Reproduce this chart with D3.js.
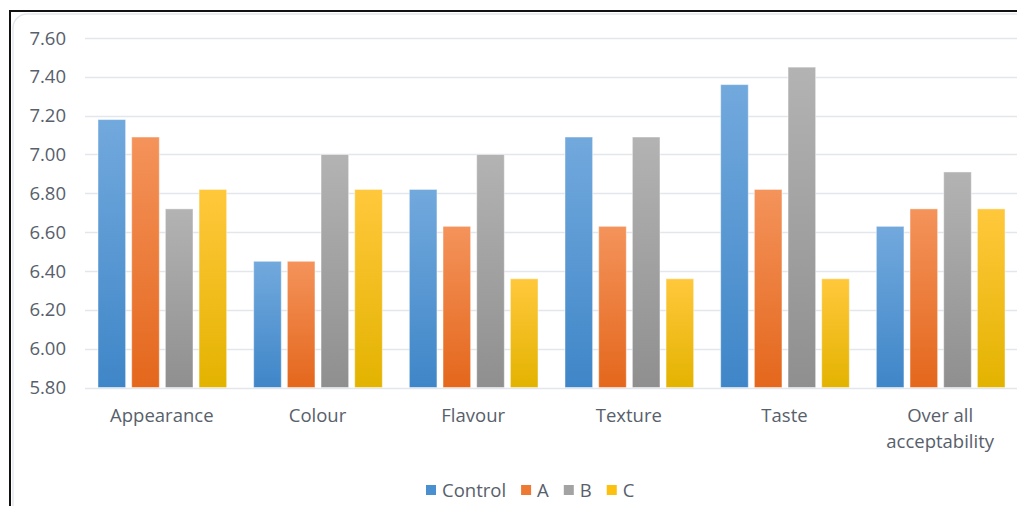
<!DOCTYPE html>
<html><head><meta charset="utf-8">
<script src="https://cdn.jsdelivr.net/npm/d3@7"></script>
<style>body{margin:0;background:#fff;}svg{display:block;}</style>
</head><body>
<svg id="c" width="1017" height="506"></svg>
<script>
const categories = ["Appearance","Colour","Flavour","Texture","Taste","Over all acceptability"];
const seriesNames = ["Control","A","B","C"];
const control = [7.18, 6.45, 6.82, 7.09, 7.36, 6.63];
const seriesA = [7.09, 6.45, 6.63, 6.63, 6.82, 6.72];
const seriesB = [6.72, 7.00, 7.00, 7.09, 7.45, 6.91];
const seriesC = [6.82, 6.82, 6.36, 6.36, 6.36, 6.72];
const yTicks = [5.8, 6.0, 6.2, 6.4, 6.6, 6.8, 7.0, 7.2, 7.4, 7.6];

const series = [control, seriesA, seriesB, seriesC];
const colorsTop = ["#72a9dd","#f4935b","#b3b3b3","#ffc83c"];
const colorsBot = ["#3f86c8","#e4671c","#8f8f8f","#e3b300"];
const legendColors = ["#4a8fd0","#ee7932","#a3a3a3","#fcc010"];

const svg = d3.select("#c");
const font = "'Open Sans', Lato, sans-serif";
const fs = 18.5;
const textColor = "#58606b";

// frame
svg.append("rect").attr("x",13).attr("y",14).attr("width",1030).attr("height",520)
  .attr("rx",14).attr("fill","none").attr("stroke","#e4e8ee").attr("stroke-width",1.5);
svg.append("rect").attr("x",10).attr("y",11).attr("width",1040).attr("height",540)
  .attr("fill","none").attr("stroke","#111").attr("stroke-width",2);

const defs = svg.append("defs");
series.forEach((s,i)=>{
  const g = defs.append("linearGradient").attr("id","g"+i).attr("x1",0).attr("y1",0).attr("x2",0).attr("y2",1);
  g.append("stop").attr("offset","0%").attr("stop-color",colorsTop[i]);
  g.append("stop").attr("offset","100%").attr("stop-color",colorsBot[i]);
});

const x0 = d3.scaleBand().domain(categories).range([84,1018]).paddingInner(0).paddingOuter(0);
const x1 = d3.scaleBand().domain(seriesNames).range([14, x0.bandwidth()-13]).paddingInner(0.18);
const y = d3.scaleLinear().domain([5.8,7.6]).range([387.5,38]);

// grid
svg.append("g").selectAll("line").data(yTicks).join("line")
  .attr("x1",85).attr("x2",1017).attr("y1",d=>Math.round(y(d))+0.5).attr("y2",d=>Math.round(y(d))+0.5)
  .attr("stroke","#e3e6ea").attr("stroke-width",1.3);

// y labels
svg.append("g").selectAll("text").data(yTicks).join("text")
  .attr("x",66).attr("y",d=>y(d)+6.5).attr("text-anchor","end")
  .attr("font-family",font).attr("font-size",fs).attr("fill",textColor)
  .text(d=>d3.format(".2f")(d));

// bars
const gcat = svg.append("g").selectAll("g").data(categories).join("g")
  .attr("transform",d=>`translate(${x0(d)},0)`);
gcat.selectAll("rect").data((d,ci)=>series.map((s,si)=>({si, v:s[ci]}))).join("rect")
  .attr("x",d=>x1(seriesNames[d.si])).attr("width",x1.bandwidth())
  .attr("y",d=>y(d.v)).attr("height",d=>y(5.8)-y(d.v))
  .attr("fill",d=>`url(#g${d.si})`)
  .attr("stroke","rgba(255,255,255,0.45)").attr("stroke-width",1);

// category labels
svg.append("g").selectAll("text").data(categories).join("text")
  .attr("x",d=>x0(d)+x0.bandwidth()/2).attr("y",422)
  .attr("text-anchor","middle").attr("font-family",font).attr("font-size",fs).attr("fill",textColor)
  .each(function(d){
    const t = d3.select(this);
    if(d==="Over all acceptability"){
      t.append("tspan").attr("x",x0(d)+x0.bandwidth()/2).attr("dy",0).text("Over all");
      t.append("tspan").attr("x",x0(d)+x0.bandwidth()/2).attr("dy",26).text("acceptability");
    } else t.text(d);
  });

// legend
const lg = svg.append("g");
let lx = 426;
seriesNames.forEach((n,i)=>{
  lg.append("rect").attr("x",lx).attr("y",485).attr("width",10).attr("height",10).attr("fill",legendColors[i]);
  const t = lg.append("text").attr("x",lx+16).attr("y",497).attr("font-family",font).attr("font-size",fs)
    .attr("fill",textColor).text(n);
  lx += 16 + t.node().getComputedTextLength() + 15;
});
</script>
</body></html>
